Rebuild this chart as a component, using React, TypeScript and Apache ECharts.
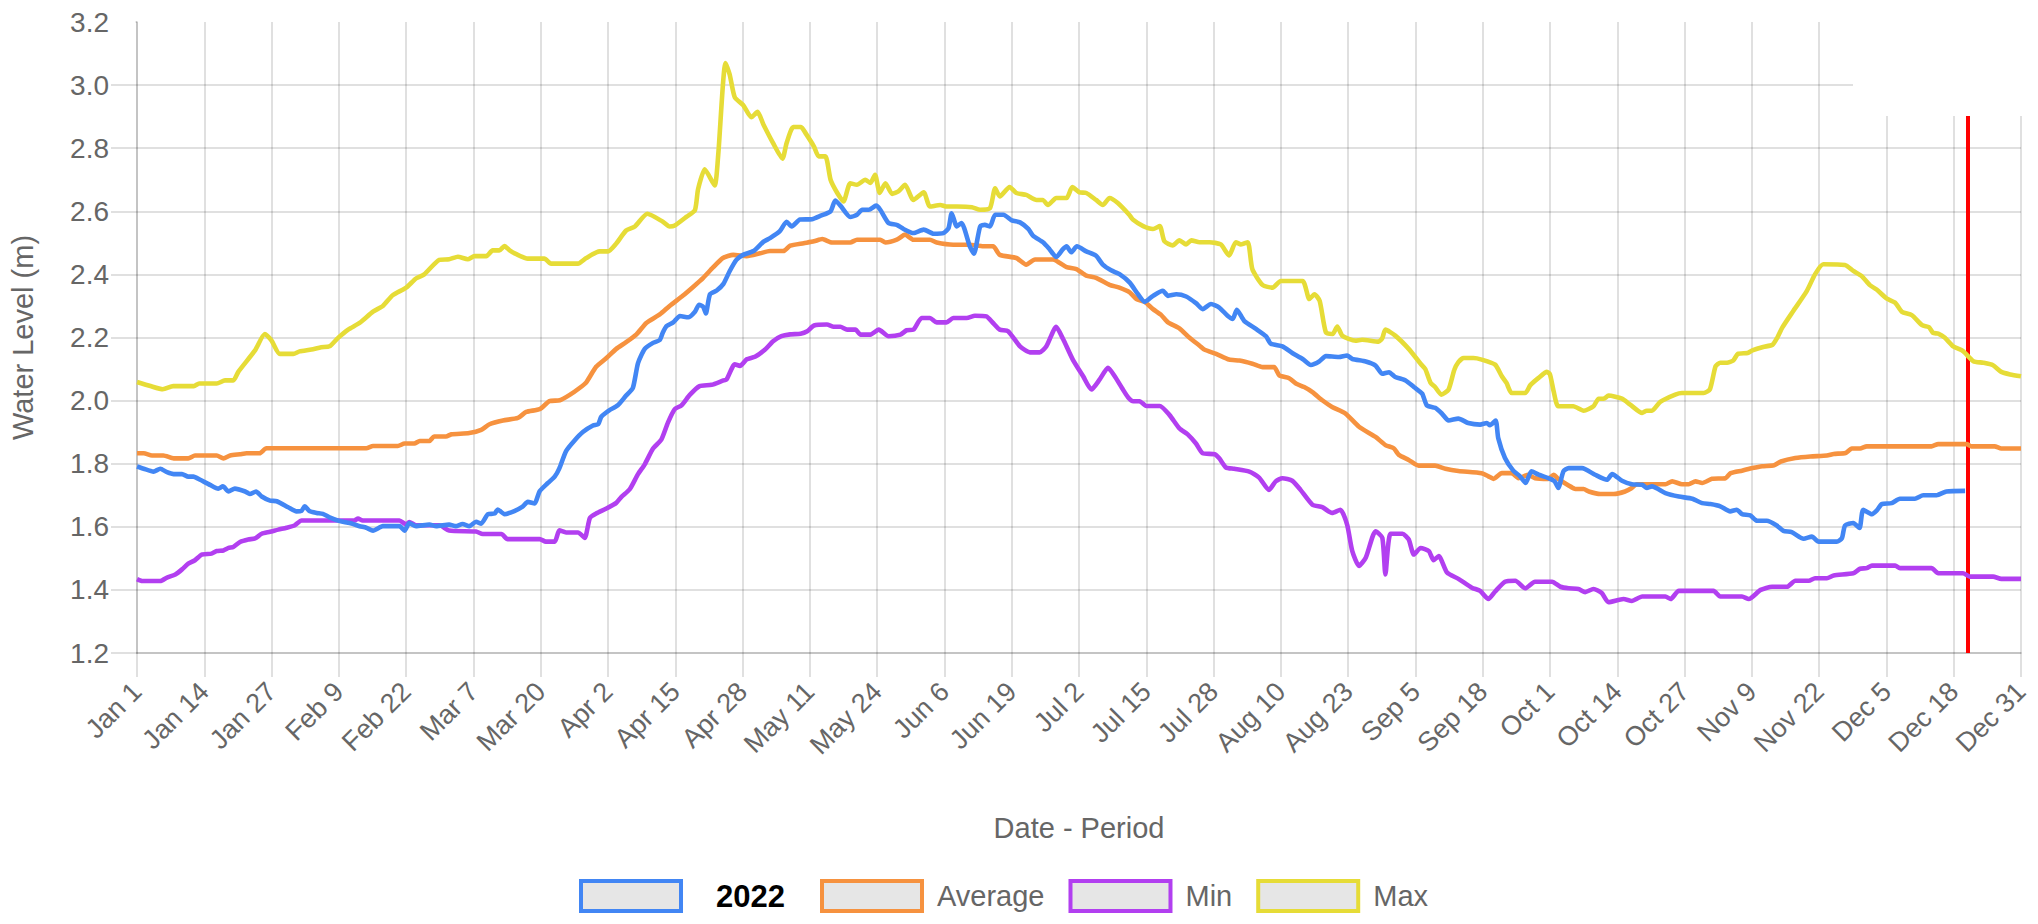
import React, { useEffect, useRef } from 'react';
import * as echarts from 'echarts';

// x tick labels (one every 13 days, day index 0..364)
const xTickLabels = ['Jan 1','Jan 14','Jan 27','Feb 9','Feb 22','Mar 7','Mar 20','Apr 2','Apr 15','Apr 28','May 11','May 24','Jun 6','Jun 19','Jul 2','Jul 15','Jul 28','Aug 10','Aug 23','Sep 5','Sep 18','Oct 1','Oct 14','Oct 27','Nov 9','Nov 22','Dec 5','Dec 18','Dec 31'];

const seriesNames = ['2022', 'Average', 'Min', 'Max'];
const seriesColors = ['#4286f4', '#f6923f', '#b23ff0', '#e6dc37'];
const todayDay = 353.7;

// [day of year index, water level (m)]
const data2022: [number, number][] = [[0,1.791],[1.3,1.784],[3.2,1.775],[4.5,1.784],[5.8,1.773],[7.1,1.767],[8.7,1.767],[9.9,1.759],[10.9,1.759],[12.2,1.749],[14.1,1.733],[15.7,1.721],[16.6,1.728],[17.7,1.712],[18.9,1.721],[20.9,1.712],[21.8,1.704],[23,1.712],[24.1,1.696],[25.7,1.683],[27,1.681],[29.2,1.662],[30.8,1.649],[31.8,1.651],[32.4,1.665],[33.4,1.649],[34.7,1.644],[35.9,1.641],[37.2,1.63],[39.2,1.618],[41.1,1.612],[43,1.602],[44.3,1.597],[45.6,1.588],[47.5,1.602],[50.7,1.602],[51.7,1.588],[52.6,1.612],[53.9,1.602],[56.5,1.607],[57.8,1.602],[60.3,1.607],[61.6,1.602],[62.9,1.609],[64.2,1.602],[65.5,1.616],[66.5,1.61],[67.8,1.64],[69.1,1.642],[69.7,1.655],[71,1.64],[72.9,1.65],[74.5,1.664],[75.5,1.679],[76.8,1.674],[77.8,1.713],[79.4,1.739],[80.7,1.759],[81.6,1.785],[82.9,1.84],[84.5,1.873],[86.2,1.901],[88.1,1.921],[89.1,1.925],[89.7,1.949],[91.3,1.97],[92.9,1.985],[94.5,2.016],[95.8,2.04],[96.8,2.119],[98.1,2.164],[99.7,2.183],[101,2.192],[101.6,2.216],[102.3,2.236],[103.6,2.248],[104.9,2.268],[106.5,2.264],[107.8,2.282],[108.6,2.304],[109.4,2.297],[109.9,2.276],[110.7,2.337],[112,2.349],[113.3,2.37],[114.5,2.41],[115.8,2.446],[117.1,2.462],[119.1,2.474],[121,2.503],[122.3,2.515],[124.2,2.537],[125.5,2.567],[126.5,2.552],[128.1,2.574],[130.4,2.575],[132.1,2.586],[134,2.6],[134.9,2.634],[135.9,2.618],[137.8,2.582],[139.1,2.589],[140.1,2.605],[141.4,2.605],[142.8,2.618],[143.6,2.605],[145.2,2.563],[146.8,2.557],[148.1,2.544],[150,2.531],[152,2.542],[153.9,2.529],[155.8,2.531],[156.8,2.547],[157.4,2.594],[158.4,2.552],[159.3,2.563],[160.9,2.489],[161.7,2.466],[162.9,2.552],[163.8,2.557],[164.8,2.552],[165.8,2.589],[167.4,2.589],[169,2.571],[170.6,2.565],[172.2,2.544],[173.1,2.523],[175.1,2.501],[176.3,2.48],[177.6,2.455],[178.9,2.48],[179.6,2.489],[180.5,2.47],[181.6,2.489],[183.4,2.473],[185.3,2.459],[186.6,2.431],[188.2,2.413],[189.9,2.4],[191.8,2.374],[193.4,2.337],[194.7,2.313],[196.3,2.332],[198.2,2.348],[199.2,2.332],[200.8,2.337],[202.7,2.33],[204.6,2.309],[205.9,2.29],[207.5,2.306],[209.1,2.295],[210.7,2.269],[211.7,2.259],[212.5,2.288],[213.9,2.253],[216.2,2.227],[218.1,2.204],[219.1,2.18],[221.3,2.172],[223.2,2.151],[225.2,2.132],[226.8,2.113],[228.4,2.124],[229.7,2.141],[232.2,2.138],[233.8,2.143],[234.8,2.132],[237.4,2.124],[239.3,2.111],[240.6,2.085],[241.9,2.09],[243.1,2.075],[245.1,2.064],[246.7,2.043],[248.3,2.022],[249.2,1.985],[250.8,1.977],[252.1,1.959],[253.4,1.937],[255.3,1.943],[257.2,1.929],[259.5,1.924],[260.8,1.929],[261.4,1.922],[262.5,1.937],[263,1.881],[264.3,1.818],[265.9,1.778],[267.2,1.76],[268.3,1.739],[269.4,1.776],[270.8,1.765],[272.7,1.754],[273.9,1.744],[274.6,1.723],[275.6,1.776],[276.6,1.786],[279.2,1.786],[281.7,1.765],[284,1.749],[285,1.767],[286.9,1.746],[288.8,1.735],[290.8,1.733],[291.7,1.723],[292.7,1.728],[295.3,1.707],[297.9,1.696],[300.5,1.689],[302.4,1.675],[304,1.672],[305.9,1.665],[307.8,1.649],[309.1,1.654],[310.1,1.64],[311.7,1.636],[313,1.619],[314.9,1.619],[316.8,1.604],[318.1,1.587],[319.7,1.583],[322,1.562],[323.6,1.569],[324.9,1.553],[328.4,1.553],[329.4,1.564],[330,1.604],[331.6,1.612],[332.8,1.596],[333.5,1.654],[335.2,1.64],[336.1,1.651],[337.1,1.672],[339,1.675],[340.6,1.689],[343.5,1.689],[345.1,1.7],[347.7,1.7],[349.6,1.712],[353.2,1.714]];

const dataAverage: [number, number][] = [[0,1.833],[1.3,1.833],[2.9,1.826],[5.1,1.826],[7.1,1.817],[9.9,1.817],[11.2,1.826],[15.4,1.826],[16.7,1.817],[18,1.826],[19.9,1.83],[21.2,1.833],[23.7,1.833],[25,1.849],[44.3,1.849],[45.6,1.856],[50.4,1.856],[51.7,1.864],[53.6,1.864],[54.6,1.872],[56.5,1.872],[57.4,1.886],[59.7,1.886],[60.7,1.893],[64.2,1.897],[66.5,1.907],[68.1,1.925],[70.7,1.937],[73.6,1.945],[75.2,1.964],[77.8,1.973],[79.7,1.998],[81.7,2.001],[83.6,2.018],[85.5,2.04],[86.8,2.058],[88.7,2.107],[90.7,2.135],[92.6,2.164],[94.5,2.185],[96.5,2.21],[98.4,2.246],[101,2.273],[102.9,2.3],[105.5,2.333],[107.5,2.361],[109.4,2.389],[111.3,2.422],[113.2,2.452],[115.2,2.462],[117.8,2.458],[120.4,2.467],[122.3,2.474],[124.9,2.474],[126.2,2.491],[128.8,2.499],[130.8,2.505],[132.4,2.512],[134.3,2.501],[137.8,2.501],[139.1,2.51],[143.6,2.51],[144.6,2.501],[146.8,2.51],[148.4,2.526],[150,2.51],[153.2,2.51],[154.5,2.501],[157.7,2.494],[160.9,2.494],[163.5,2.489],[165.4,2.489],[166.7,2.462],[169.9,2.452],[171.8,2.431],[173.5,2.447],[177,2.447],[178.3,2.436],[179.6,2.423],[181.5,2.417],[183.4,2.396],[185.3,2.389],[187.9,2.367],[189.8,2.358],[191.8,2.343],[193.1,2.322],[194.7,2.313],[196.3,2.29],[197.9,2.271],[199.2,2.248],[201.4,2.229],[203.3,2.2],[205.3,2.174],[206.2,2.162],[208.5,2.148],[211,2.13],[213,2.127],[215.5,2.117],[217.5,2.106],[219.7,2.106],[220.7,2.08],[222.6,2.071],[223.9,2.054],[225.5,2.043],[227.1,2.027],[229,2.001],[230.9,1.98],[233.5,1.959],[236.1,1.917],[239.3,1.885],[241.2,1.859],[242.8,1.849],[243.8,1.828],[245.7,1.812],[247.6,1.794],[250.8,1.794],[252.8,1.784],[255.3,1.777],[259.8,1.77],[261.1,1.76],[262.1,1.752],[263.7,1.77],[265.6,1.77],[266.9,1.754],[268.8,1.765],[270.1,1.754],[272.7,1.752],[273.7,1.765],[274.6,1.752],[276.6,1.731],[277.9,1.72],[279.5,1.72],[280.5,1.712],[282.7,1.704],[285.3,1.704],[287.5,1.712],[288.8,1.723],[289.8,1.735],[295.3,1.735],[296.6,1.744],[298.5,1.735],[299.8,1.735],[301.1,1.744],[302.4,1.739],[304.3,1.752],[306.9,1.754],[307.9,1.77],[310.1,1.778],[312.1,1.786],[314,1.792],[316.3,1.795],[317.6,1.807],[320.4,1.818],[323.3,1.823],[326.5,1.826],[327.8,1.831],[330.1,1.834],[331.3,1.848],[332.9,1.848],[334.2,1.855],[346.7,1.855],[348,1.862],[353.5,1.862],[354.4,1.855],[358.9,1.855],[360.2,1.848],[364,1.848]];

const dataMin: [number, number][] = [[0,1.434],[1,1.428],[4.5,1.428],[5.8,1.439],[7.4,1.449],[8.7,1.465],[9.9,1.483],[11.2,1.494],[12.5,1.512],[14.4,1.515],[15.4,1.523],[16.7,1.525],[17.7,1.533],[18.6,1.536],[19.9,1.552],[21.5,1.56],[22.8,1.563],[24.1,1.578],[25.7,1.584],[27.3,1.591],[28.9,1.597],[30.5,1.605],[31.8,1.62],[42,1.62],[42.7,1.626],[43.6,1.62],[50.7,1.62],[52,1.607],[52.6,1.615],[53.9,1.605],[58.4,1.605],[60.3,1.588],[65.5,1.585],[66.8,1.577],[70.4,1.577],[71.6,1.561],[77.8,1.561],[79,1.553],[80.7,1.553],[81.6,1.589],[82.9,1.582],[85.2,1.582],[86.5,1.565],[87.5,1.628],[88.7,1.642],[90.7,1.658],[92.6,1.676],[93.6,1.695],[95.2,1.719],[96.8,1.767],[98.1,1.798],[99.7,1.848],[101.3,1.876],[102.6,1.931],[103.9,1.973],[105.2,1.985],[106.8,2.018],[108.7,2.046],[111,2.05],[113.3,2.064],[113.9,2.067],[115.5,2.115],[116.5,2.11],[117.8,2.131],[119.4,2.139],[121.3,2.161],[122.9,2.188],[124.5,2.204],[126.2,2.21],[128.2,2.212],[129.5,2.22],[130.8,2.238],[133.3,2.241],[134.6,2.234],[135.9,2.234],[137.2,2.225],[138.8,2.225],[139.8,2.209],[141.7,2.209],[143.3,2.225],[145.2,2.204],[147.5,2.209],[148.7,2.223],[150,2.225],[151.6,2.262],[153.2,2.262],[154.5,2.248],[156.4,2.248],[157.7,2.262],[160.3,2.262],[161.9,2.269],[164.1,2.267],[165.4,2.246],[166.7,2.225],[168.3,2.22],[170.6,2.172],[172.5,2.153],[174.4,2.153],[175.7,2.172],[177.6,2.234],[178.9,2.196],[180.8,2.13],[182.8,2.077],[184.4,2.035],[186,2.067],[187.6,2.104],[188.9,2.077],[190.3,2.04],[191.5,2.01],[192.5,1.998],[193.7,1.998],[195,1.983],[197.6,1.983],[199.5,1.954],[201.4,1.912],[203,1.893],[204.6,1.864],[205.9,1.833],[208.2,1.83],[209.1,1.817],[210.4,1.788],[212,1.784],[214.9,1.775],[216.8,1.756],[218.7,1.717],[220,1.744],[221.3,1.754],[223.2,1.746],[224.8,1.717],[227.1,1.67],[229,1.662],[230.9,1.644],[232.5,1.654],[233.8,1.607],[234.8,1.523],[236.1,1.476],[237.4,1.502],[239.3,1.586],[240.6,1.565],[241.2,1.449],[242.2,1.578],[244.5,1.578],[245.7,1.56],[246.7,1.512],[248,1.533],[249.6,1.523],[250.5,1.494],[251.5,1.507],[253.1,1.455],[255.3,1.435],[257.9,1.407],[259.5,1.397],[261.1,1.371],[262.4,1.395],[264.3,1.426],[266.3,1.429],[268.2,1.405],[270.1,1.426],[273.4,1.426],[275,1.41],[276.6,1.405],[278.5,1.403],[279.8,1.393],[281.4,1.403],[283,1.39],[284.3,1.361],[287.2,1.371],[288.8,1.365],[290.8,1.379],[295.3,1.379],[296.3,1.371],[297.9,1.397],[304.6,1.397],[305.9,1.379],[310.1,1.379],[311.4,1.371],[313.7,1.4],[315.9,1.41],[318.8,1.41],[320.4,1.429],[323,1.429],[324.2,1.437],[326.5,1.437],[327.8,1.446],[331.6,1.453],[332.9,1.467],[334.2,1.469],[335.2,1.477],[339.7,1.477],[340.6,1.469],[346.7,1.469],[348,1.453],[352.8,1.453],[354.1,1.442],[358.6,1.442],[360.2,1.435],[364,1.435]];

const dataMax: [number, number][] = [[0,2.059],[2.6,2.046],[5,2.036],[7,2.046],[11,2.046],[12,2.054],[15.4,2.054],[17,2.064],[18.6,2.064],[19.6,2.092],[22.8,2.159],[24.7,2.211],[26,2.19],[27.6,2.148],[30.2,2.148],[31.4,2.156],[33.7,2.162],[35.6,2.169],[37.2,2.172],[38.8,2.198],[40.8,2.225],[43,2.246],[45.6,2.282],[47.5,2.3],[49.4,2.334],[52,2.358],[53.9,2.387],[55.5,2.4],[58.4,2.446],[60.3,2.448],[62,2.456],[63.9,2.448],[65.2,2.458],[67.5,2.458],[68.7,2.476],[70,2.476],[71,2.49],[72,2.476],[73.3,2.464],[75.5,2.45],[78.7,2.45],[80,2.434],[85.2,2.434],[86.8,2.452],[89.4,2.473],[91,2.473],[92.6,2.498],[94.5,2.539],[96.2,2.552],[98.6,2.592],[101.6,2.567],[102.9,2.552],[103.9,2.555],[106.2,2.583],[107.8,2.604],[108.4,2.67],[109.7,2.733],[111.6,2.682],[112.3,2.78],[113.7,3.07],[114.5,3.034],[115.5,2.961],[117.1,2.937],[118.7,2.898],[119.9,2.915],[121,2.876],[122.9,2.816],[124.7,2.767],[125.5,2.816],[126.8,2.867],[128.3,2.867],[129.2,2.847],[130.8,2.805],[131.7,2.774],[133,2.774],[134,2.7],[135.3,2.658],[136.5,2.631],[137.8,2.689],[139.1,2.684],[140.7,2.7],[141.7,2.69],[142.6,2.716],[143.5,2.658],[144.6,2.689],[145.9,2.655],[147.1,2.663],[148.4,2.684],[150,2.636],[152,2.66],[153.2,2.615],[155.2,2.62],[156.4,2.615],[158.4,2.615],[161.3,2.613],[162.9,2.605],[164.8,2.61],[165.8,2.673],[166.7,2.647],[168.6,2.677],[169.9,2.658],[171.8,2.652],[173.8,2.636],[175,2.636],[176,2.62],[177.6,2.642],[179.6,2.642],[180.7,2.677],[182.1,2.66],[183.4,2.658],[185.3,2.636],[186.6,2.62],[187.9,2.642],[189.5,2.626],[191.7,2.589],[192.4,2.574],[194.4,2.553],[196.3,2.544],[197.6,2.553],[198.5,2.505],[200.1,2.492],[201.4,2.508],[202.7,2.495],[203.7,2.508],[205.3,2.502],[207.2,2.502],[209.4,2.495],[211,2.46],[212.3,2.502],[213.3,2.495],[214.6,2.502],[215.5,2.416],[217.5,2.366],[219.4,2.358],[221,2.379],[225.2,2.379],[226.5,2.322],[227.5,2.337],[228.5,2.316],[229.7,2.216],[231,2.211],[231.9,2.235],[232.9,2.205],[235.4,2.19],[236.7,2.193],[239.9,2.187],[240.6,2.198],[241.2,2.225],[243.1,2.206],[245.7,2.164],[248,2.117],[248.9,2.1],[249.9,2.057],[250.8,2.043],[252,2.019],[253.4,2.035],[254.5,2.097],[255.3,2.122],[256.3,2.135],[258.2,2.135],[259.8,2.13],[262.4,2.114],[263.7,2.077],[264.6,2.056],[265.6,2.024],[268.2,2.024],[269.2,2.049],[270.8,2.072],[272.4,2.091],[273,2.083],[273.7,2.03],[274.6,1.982],[277.5,1.982],[279.5,1.968],[281.4,1.982],[282.4,2.006],[283.4,2.006],[284.3,2.016],[286.9,2.006],[288.5,1.987],[290.8,1.961],[291.7,1.968],[292.7,1.968],[294.3,1.996],[297.2,2.019],[298.5,2.024],[302.7,2.024],[303.9,2.036],[305,2.109],[305.9,2.12],[307.2,2.12],[308.4,2.127],[309.3,2.148],[311.2,2.151],[312.1,2.159],[314.2,2.17],[316,2.177],[316.9,2.199],[317.9,2.232],[320,2.284],[322.6,2.347],[324.2,2.4],[325.8,2.432],[330,2.43],[331.6,2.411],[333.2,2.395],[334.8,2.366],[336.1,2.352],[338,2.324],[339.7,2.31],[341,2.281],[342.9,2.271],[344.9,2.239],[346.2,2.233],[347,2.215],[348,2.212],[349.3,2.199],[350.9,2.172],[352.8,2.157],[354.8,2.125],[356.7,2.12],[358.6,2.112],[360.2,2.091],[361.9,2.083],[364,2.077]];

const seriesData = [data2022, dataAverage, dataMin, dataMax];

const FONT = '"Liberation Sans", Arial, Helvetica, sans-serif';
const GRID = 'rgba(0,0,0,0.12)';
const TEXT = '#666';

export default function App() {
  const ref = useRef<HTMLDivElement>(null);
  useEffect(() => {
    const chart = echarts.init(ref.current!, null, { renderer: 'svg' });
    const yGridColors = [GRID, GRID, GRID, GRID, GRID, GRID, GRID, GRID, GRID, GRID, 'rgba(0,0,0,0)'];
    const legendItem = (i: number) => ({
      name: seriesNames[i],
      itemStyle: { color: '#e6e6e6', borderColor: seriesColors[i], borderWidth: 4 },
      textStyle: i === 0
        ? { color: '#000', fontWeight: 'bold', fontSize: 31, fontFamily: FONT, padding: [0, 0, 0, 30] }
        : { color: TEXT, fontSize: 29, fontFamily: FONT, padding: [0, 2, 0, 10] },
    });
    const legendBase = {
      top: 874,
      icon: 'rect',
      itemWidth: 100,
      itemHeight: 30,
      itemGap: 24,
      textStyle: { color: TEXT, fontSize: 29, fontFamily: FONT },
    };
    const option: any = {
      animation: false,
      backgroundColor: '#ffffff',
      textStyle: { fontFamily: FONT },
      grid: { left: 136.5, right: 17, top: 22, bottom: 271 },
      xAxis: {
        type: 'value',
        min: 0,
        max: 364,
        interval: 13,
        name: 'Date - Period',
        nameLocation: 'middle',
        nameGap: 160,
        nameTextStyle: { color: TEXT, fontSize: 29, fontFamily: FONT },
        axisLine: { show: true, onZero: false, lineStyle: { color: GRID, width: 2 } },
        axisTick: { show: true, length: 24, lineStyle: { color: GRID, width: 2 } },
        axisLabel: {
          rotate: 45,
          margin: 34,
          color: TEXT,
          fontSize: 27,
          fontFamily: FONT,
          formatter: (v: number) => xTickLabels[Math.round(v / 13)] ?? '',
        },
        splitLine: { show: true, lineStyle: { color: GRID, width: 2 } },
      },
      yAxis: {
        type: 'value',
        min: 1.2,
        max: 3.2,
        interval: 0.2,
        name: 'Water Level (m)',
        nameLocation: 'middle',
        nameGap: 100,
        nameTextStyle: { color: TEXT, fontSize: 29, fontFamily: FONT },
        axisLine: { show: true, onZero: false, lineStyle: { color: GRID, width: 2 } },
        axisTick: { show: true, length: 26, lineStyle: { color: GRID, width: 2 } },
        axisLabel: {
          margin: 28,
          color: TEXT,
          fontSize: 28,
          fontFamily: FONT,
          formatter: (v: number) => v.toFixed(1),
        },
        splitLine: { show: true, lineStyle: { color: yGridColors, width: 2 } },
      },
      legend: [
        { ...legendBase, left: 574, data: [legendItem(0)] },
        { ...legendBase, left: 815, data: [legendItem(1), legendItem(2), legendItem(3)] },
      ],
      series: seriesNames.map((n, i) => ({
        name: n,
        type: 'line',
        data: seriesData[i],
        symbol: 'none',
        showSymbol: false,
        smooth: 0.2,
        z: 10 - i,
        itemStyle: { color: seriesColors[i] },
        lineStyle: { color: seriesColors[i], width: 4.6 },
        ...(i === 0
          ? {
              markLine: {
                silent: true,
                symbol: 'none',
                label: { show: false },
                lineStyle: { color: '#ff0000', width: 4, type: 'solid' },
                data: [{ xAxis: todayDay }],
              },
            }
          : {}),
      })),
      graphic: [
        { type: 'rect', x: 1853, y: 0, shape: { x: 0, y: 0, width: 185, height: 116 }, style: { fill: '#ffffff' }, z: 100, silent: true },
        { type: 'rect', x: 109.5, y: 17, shape: { x: 0, y: 0, width: 26, height: 10 }, style: { fill: '#ffffff' }, z: 100, silent: true },
      ],
    };
    chart.setOption(option);
    return () => chart.dispose();
  }, []);
  return (
    <div
      ref={ref}
      style={{ position: 'fixed', left: 0, top: 0, width: 2038, height: 924, background: '#fff' }}
    />
  );
}
